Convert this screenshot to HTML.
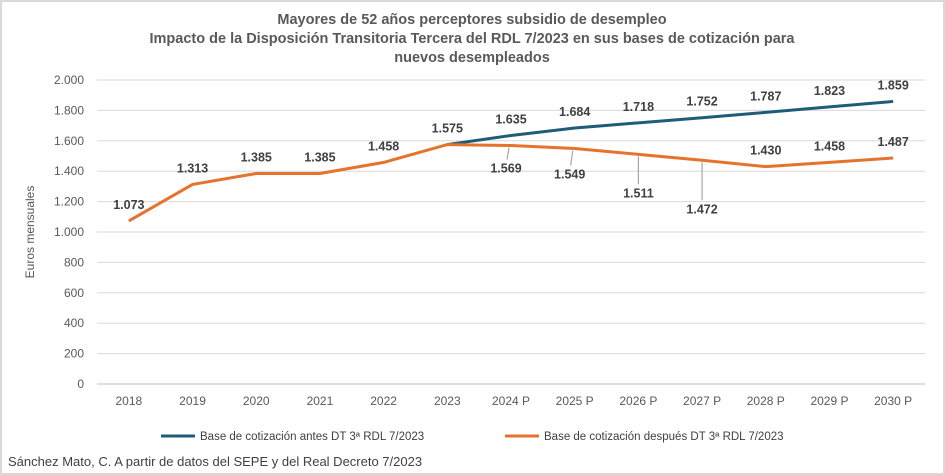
<!DOCTYPE html>
<html><head><meta charset="utf-8"><style>
html,body{margin:0;padding:0;background:#fff}
svg{display:block;font-family:"Liberation Sans",sans-serif}
</style></head><body>
<svg width="945" height="475" viewBox="0 0 945 475">
<rect x="1" y="1" width="943" height="473" fill="#fff" stroke="#d9d9d9" stroke-width="2"/>
<g font-weight="bold" font-size="14.5" fill="#595959" text-anchor="middle">
<text x="472" y="24">Mayores de 52 años perceptores subsidio de desempleo</text>
<text x="472" y="43">Impacto de la Disposición Transitoria Tercera del RDL 7/2023 en sus bases de cotización para</text>
<text x="472" y="62">nuevos desempleados</text>
</g>
<text transform="translate(34,232) rotate(-90)" text-anchor="middle" font-size="12" fill="#595959">Euros mensuales</text>
<g id="grid"></g><g id="yt"></g><g id="xt"></g><g id="series"></g><g id="labels"></g>
<g font-size="11.5" fill="#404040">
<line x1="161" y1="436" x2="195" y2="436" stroke="#1f5c7a" stroke-width="3"/>
<text x="200" y="440">Base de cotización antes DT 3ª RDL 7/2023</text>
<line x1="505" y1="436" x2="539" y2="436" stroke="#e5732d" stroke-width="3"/>
<text x="544" y="440">Base de cotización después DT 3ª RDL 7/2023</text>
</g>
<text x="8" y="466" font-size="13" fill="#404040">Sánchez Mato, C.  A partir de datos del SEPE y del Real Decreto 7/2023</text>
</svg>
<script>
const categories=["2018","2019","2020","2021","2022","2023","2024 P","2025 P","2026 P","2027 P","2028 P","2029 P","2030 P"];
const before=[null,null,null,null,null,1575,1635,1684,1718,1752,1787,1823,1859];
const after=[1073,1313,1385,1385,1458,1575,1569,1549,1511,1472,1430,1458,1487];
const yTicks=[0,200,400,600,800,1000,1200,1400,1600,1800,2000];
const afterBelow=[false,false,false,false,false,false,true,true,true,true,false,false,false];
const afterOffset=[0,0,0,0,0,0,18,21,34,44,0,0,0];
const NS="http://www.w3.org/2000/svg";
const L=97,R=925,T=80,B=384;
const step=(R-L)/categories.length;
const x=i=>L+step*(i+0.5);
const y=v=>B-(v/2000)*(B-T);
const fmt=v=>{const s=String(v);return s.length>3?s.slice(0,-3)+"."+s.slice(-3):s;};
function mk(tag,attrs,parent,text){const e=document.createElementNS(NS,tag);for(const k in attrs)e.setAttribute(k,attrs[k]);if(text!==undefined)e.textContent=text;document.getElementById(parent).appendChild(e);return e;}
yTicks.forEach(v=>{
 const g=mk("line",{x1:L,x2:R,y1:y(v),y2:y(v),stroke:v===0?"#bfbfbf":"#d9d9d9","stroke-width":1},"grid");
 
 
 const t=mk("text",{x:L-13,y:y(v)+4,"text-anchor":"end","font-size":12,fill:"#595959"},"yt",fmt(v));
 
 
});
categories.forEach((c,i)=>{
 const t=mk("text",{x:x(i),y:B+21,"text-anchor":"middle","font-size":12,fill:"#595959"},"xt",c);
 
 
});
function path(arr){let d="";arr.forEach((v,i)=>{if(v==null)return;d+=(d?"L":"M")+x(i)+","+y(v);});return d;}
const pb=mk("path",{d:path(before),fill:"none",stroke:"#1f5c7a","stroke-width":3,"stroke-linejoin":"round"},"series");


const pa=mk("path",{d:path(after),fill:"none",stroke:"#e5732d","stroke-width":3,"stroke-linejoin":"round"},"series");


const lab=(i,v,yy)=>{const t=mk("text",{x:x(i),y:yy,"text-anchor":"middle","font-size":12.5,"font-weight":"bold",fill:"#404040"},"labels",fmt(v));return t;};
before.forEach((v,i)=>{if(v==null||i===5)return;
 const t=lab(i,v,y(v)-12);
 
 
});
after.forEach((v,i)=>{
 let t;
 if(afterBelow[i]){
  const ly=y(v)+afterOffset[i];
  const ln=mk("line",{x1:x(i)-(i<8?2:0),y1:y(v)+2,x2:x(i)-(i<8?4:0),y2:ly-4,stroke:"#a6a6a6","stroke-width":1.2},"labels");
  
  
  t=lab(i,v,ly+9);
  t.setAttribute('x',x(i)-(i<8?5:0));
 } else t=lab(i,v,y(v)-12);
 
 
});
</script>
</body></html>
